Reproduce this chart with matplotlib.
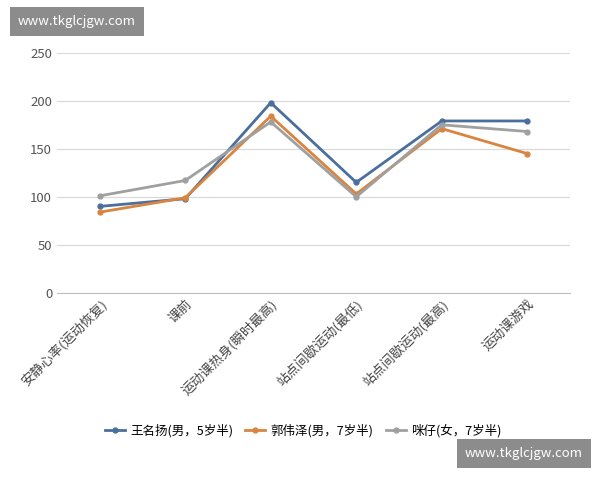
import matplotlib
matplotlib.use('Agg')
import matplotlib.pyplot as plt

plt.rcParams['font.family'] = ['Noto Sans CJK SC', 'DejaVu Sans']

categories = ['安静心率(运动恢复)', '课前', '运动课热身(瞬时最高)', '站点间歇运动(最低)', '站点间歇运动(最高)', '运动课游戏']
wang = [90, 98, 198, 115, 179, 179]
guo = [84, 99, 184, 103, 171, 145]
mizai = [101, 117, 178, 100, 175, 168]
names = ['王名扬(男，5岁半)', '郭伟泽(男，7岁半)', '咪仔(女，7岁半)']
colors = ['#4a6f9c', '#d9843f', '#a0a0a0']

fig = plt.figure(figsize=(6, 4.8), dpi=100)
ax = fig.add_axes([0.095, 0.39, 0.855, 0.50])
x = range(len(categories))
for ys, n, c in zip([wang, guo, mizai], names, colors):
    ax.plot(x, ys, color=c, lw=2, marker='o', ms=3.5, label=n)

ax.set_ylim(0, 250)
ax.set_yticks(range(0, 251, 50))
ax.set_xlim(-0.5, 5.5)
ax.set_xticks(list(x))
ax.set_xticklabels(categories, rotation=45, ha='right', rotation_mode='anchor', fontsize=9.5, color='#444444')
ax.tick_params(axis='y', labelsize=9.5, colors='#555555', length=0)
ax.tick_params(axis='x', length=0)
ax.grid(axis='y', color='#d9d9d9', lw=0.8)
ax.set_axisbelow(True)
for s in ['top', 'right', 'left']:
    ax.spines[s].set_visible(False)
ax.spines['bottom'].set_color('#bfbfbf')

fig.legend(loc='center', bbox_to_anchor=(0.505, 0.103), ncol=3, frameon=False, fontsize=9,
           handlelength=1.6, handletextpad=0.4, columnspacing=1.0)

box = dict(facecolor='#8c8c8c', edgecolor='none', pad=6)
fig.text(0.03, 0.955, 'www.tkglcjgw.com', color='white', fontsize=9.5, va='center', bbox=box)
fig.text(0.775, 0.055, 'www.tkglcjgw.com', color='white', fontsize=9.5, va='center', bbox=box)

fig.savefig('out.png', dpi=100)
